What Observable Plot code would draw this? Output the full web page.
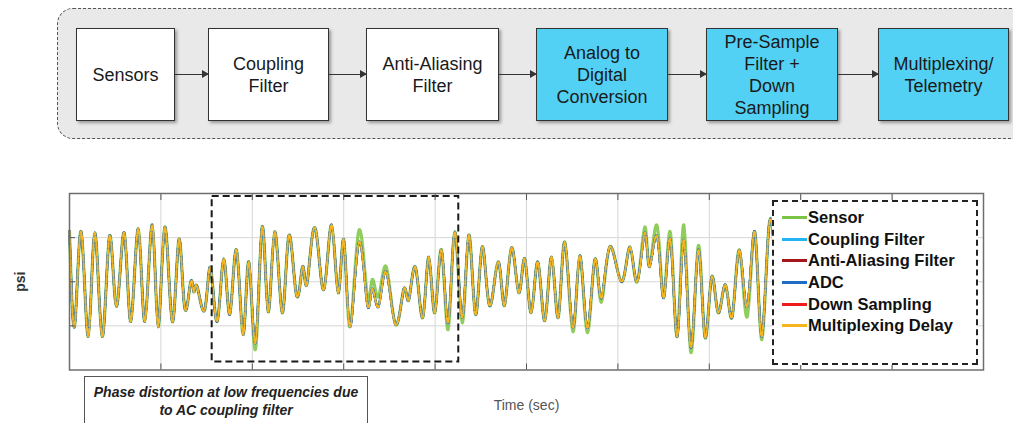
<!DOCTYPE html>
<html>
<head>
<meta charset="utf-8">
<script src="https://cdn.jsdelivr.net/npm/d3@7"></script>
<script src="https://cdn.jsdelivr.net/npm/@observablehq/plot@0.6"></script>
<style>
  html, body { margin: 0; padding: 0; background: #fff; }
  #wrap { position: relative; width: 1013px; height: 423px; overflow: hidden; font-family: "Liberation Sans", Arial, sans-serif; }
  #outer { position: absolute; left: 57px; top: 8px; width: 980px; height: 129px; border: 1.5px dashed #555; border-radius: 16px; background: #e9e9e9; }
  #flow { position: absolute; left: 76px; top: 27px; height: 95px; display: flex; align-items: center; }
  .box { height: 93px; box-sizing: border-box; border: 1.5px solid #333; background: #fff; display: flex; flex-direction: column; justify-content: center; align-items: center; font-size: 18px; line-height: 22px; color: #1a1a1a; text-align: center; box-shadow: 2px 2px 3px rgba(0,0,0,0.35); }
  .box.digital { background: #53d1f5; }
  .arrow { position: relative; height: 1.5px; background: #333; }
  .arrow::after { content: ""; position: absolute; right: -1px; top: -4px; border-left: 7px solid #333; border-top: 4.5px solid transparent; border-bottom: 4.5px solid transparent; }
  #chart { position: absolute; left: 0; top: 150px; }
  #legend { position: absolute; left: 772px; top: 200px; width: 206px; height: 165px; box-sizing: border-box; border: 2px dashed #222; background: #fff; padding: 5px 0 0 8px; }
  .item { display: flex; align-items: center; height: 21.6px; font-weight: bold; font-size: 16.5px; color: #111; white-space: nowrap; }
  .swatch { width: 25px; height: 3px; margin-right: 1px; }
  #note { position: absolute; left: 84px; top: 376px; width: 284px; height: 60px; box-sizing: border-box; border: 1.5px solid #555; background: #fff; text-align: center; font-weight: bold; font-style: italic; font-size: 14px; line-height: 18px; color: #222; padding-top: 6px; }
  #chart svg g[aria-label="y-axis label"] { font-weight: bold; }
</style>
</head>
<body>
<div id="wrap">
  <div id="outer"></div>
  <div id="flow"></div>
  <div id="chart"></div>
  <div id="legend"></div>
  <div id="note">Phase distortion at low frequencies due<br>to AC coupling filter</div>
</div>
<script>
// ---------- data ----------
const stageLabels = ["Sensors", "Coupling\nFilter", "Anti-Aliasing\nFilter", "Analog to\nDigital\nConversion", "Pre-Sample\nFilter +\nDown\nSampling", "Multiplexing/\nTelemetry"];
const stageDigital = [false, false, false, true, true, true];

const seriesNames = ["Sensor", "Coupling Filter", "Anti-Aliasing Filter", "ADC", "Down Sampling", "Multiplexing Delay"];

const xTicks = [0,1,2,3,4,5,6,7,8,9,10];
const yTicks = [-1, 0, 1];

const timeSec = [0,0.058,0.128,0.205,0.277,0.358,0.438,0.514,0.598,0.671,0.752,0.824,0.905,0.970,1.043,1.124,1.196,1.258,1.324,1.360,1.397,1.480,1.543,1.616,1.688,1.754,1.827,1.900,1.962,2.035,2.108,2.174,2.246,2.327,2.399,2.480,2.542,2.574,2.612,2.691,2.782,2.867,2.940,3.001,3.069,3.165,3.257,3.312,3.381,3.465,3.567,3.658,3.712,3.786,3.865,3.931,3.997,4.070,4.143,4.216,4.296,4.369,4.442,4.515,4.595,4.690,4.759,4.836,4.916,4.981,5.051,5.124,5.200,5.274,5.347,5.419,5.507,5.583,5.664,5.747,5.817,5.911,6.039,6.132,6.211,6.294,6.346,6.430,6.502,6.575,6.649,6.721,6.798,6.879,6.951,7.024,7.097,7.177,7.251,7.330,7.415,7.498,7.571,7.651,7.724];

const filteredPsi = [1.15,-0.97,1.13,-1.24,1.11,-1.24,1.04,-0.56,1.11,-0.90,1.20,-0.90,1.29,-1.02,1.24,-0.90,0.95,-0.56,-0.02,-0.23,-0.11,-0.63,0.32,-0.90,0.52,-0.74,0.72,-1.20,0.45,-1.38,1.24,-0.68,1.13,-0.70,1.04,-0.27,0.27,0.07,0.16,1.20,-0.18,1.29,-0.25,0.95,-1.02,0.88,-0.50,-0.16,-0.56,0.23,-0.97,-0.16,-0.41,0.32,-0.81,0.56,-0.70,0.72,-0.93,1.13,-0.81,1.06,-0.74,0.79,-0.54,0.45,-0.54,0.77,-0.25,0.52,-0.70,0.45,-0.88,0.56,-0.81,0.90,-1.04,0.59,-1.04,0.50,-0.38,0.79,0.00,0.79,0.00,1.11,0.34,1.02,-0.36,0.95,-1.24,0.95,-1.49,0.72,-1.24,0.09,-0.70,-0.07,-0.79,0.72,-0.56,1.13,-1.24,1.22,0.27];

const sensorPsi = [1.15,-0.97,1.13,-1.24,1.11,-1.24,1.04,-0.56,1.11,-0.90,1.20,-0.90,1.29,-1.02,1.24,-0.90,0.95,-0.56,-0.02,-0.23,-0.11,-0.63,0.32,-0.90,0.52,-0.74,0.72,-1.20,0.45,-1.53,1.24,-0.68,1.13,-0.70,1.04,-0.27,0.27,0.07,0.16,1.20,-0.18,1.29,-0.25,0.95,-1.02,1.15,-0.34,0.05,-0.34,0.34,-0.97,-0.16,-0.41,0.32,-0.81,0.56,-0.70,0.72,-1.08,1.13,-0.93,1.06,-0.74,0.79,-0.54,0.45,-0.54,0.77,-0.25,0.52,-0.70,0.45,-0.88,0.56,-0.81,0.90,-1.13,0.59,-1.15,0.50,-0.47,0.79,0.00,0.79,0.00,1.24,0.34,1.26,-0.36,1.11,-1.24,1.29,-1.60,0.81,-1.24,0.09,-0.70,-0.07,-0.79,0.72,-0.79,1.13,-1.31,1.22,0.27];

const phaseWindow = [{t1: 1.561, t2: 4.259, p1: -1.82, p2: 1.93}];

// ---------- styles ----------
const seriesColors = ["#7cc443", "#22b5f2", "#a3161a", "#1f6dc2", "#f01b1b", "#f6b51e"];
const seriesWidths = [3.2, 2.4, 2.0, 2.2, 2.0, 2.0];
const seriesDash = [null, null, null, null, null, "5,2"];
const drawOrder = [0, 4, 2, 1, 3, 5];
const boxWidths = [99, 121, 133, 132, 132, 131];
const arrowWidths = [33, 37, 37, 38, 40];

// ---------- flow diagram ----------
const flow = document.getElementById("flow");
stageLabels.forEach((lab, i) => {
  if (i > 0) {
    const a = document.createElement("div");
    a.className = "arrow";
    a.style.width = arrowWidths[i - 1] + "px";
    flow.appendChild(a);
  }
  const b = document.createElement("div");
  b.className = "box" + (stageDigital[i] ? " digital" : "");
  b.style.width = boxWidths[i] + "px";
  lab.split("\n").forEach(line => {
    const s = document.createElement("div");
    s.textContent = line;
    b.appendChild(s);
  });
  flow.appendChild(b);
});

// ---------- chart ----------
const rows = seriesNames.map((name, k) => {
  const vals = k === 0 ? sensorPsi : filteredPsi;
  return timeSec.map((t, i) => ({series: name, t, psi: vals[i]}));
});

const lineMarks = drawOrder.map(k =>
  Plot.line(rows[k], {
    x: "t", y: "psi",
    stroke: seriesColors[k],
    strokeWidth: seriesWidths[k],
    strokeDasharray: seriesDash[k],
    curve: "natural",
    strokeOpacity: k === 0 ? 0.85 : 1
  })
);

const chart = Plot.plot({
  width: 1013,
  height: 273,
  marginLeft: 69,
  marginRight: 30,
  marginTop: 43,
  marginBottom: 53.5,
  style: {fontFamily: "Liberation Sans, Arial, sans-serif", background: "transparent"},
  x: {domain: [0, 10]},
  y: {domain: [-2, 2]},
  marks: [
    Plot.gridX(xTicks, {stroke: "#d6d6d6", strokeOpacity: 1}),
    Plot.gridY(yTicks, {stroke: "#d6d6d6", strokeOpacity: 1}),
    ...lineMarks,
    Plot.rect(phaseWindow, {x1: "t1", x2: "t2", y1: "p1", y2: "p2", fill: "none", stroke: "#1a1a1a", strokeWidth: 2, strokeDasharray: "7,4"}),
    Plot.axisX(xTicks, {anchor: "bottom", tickSize: -6, tickFormat: () => "", stroke: "#555", label: "Time (sec)", labelAnchor: "center", labelArrow: "none", labelOffset: 40, fontSize: 14, color: "#555"}),
    Plot.axisX(xTicks, {anchor: "top", tickSize: -6, tickFormat: () => "", stroke: "#555", label: null}),
    Plot.axisY(yTicks, {anchor: "left", tickSize: -6, tickFormat: () => "", stroke: "#555", label: "psi", labelAnchor: "center", labelArrow: "none", labelOffset: 54, fontSize: 14, color: "#333"}),
    Plot.frame({stroke: "#6e6e6e", strokeWidth: 1.5})
  ]
});
document.getElementById("chart").appendChild(chart);

// ---------- legend ----------
const legend = document.getElementById("legend");
seriesNames.forEach((name, k) => {
  const it = document.createElement("div");
  it.className = "item";
  const sw = document.createElement("span");
  sw.className = "swatch";
  sw.style.background = seriesColors[k];
  const tx = document.createElement("span");
  tx.textContent = name;
  it.appendChild(sw);
  it.appendChild(tx);
  legend.appendChild(it);
});
</script>
</body>
</html>
